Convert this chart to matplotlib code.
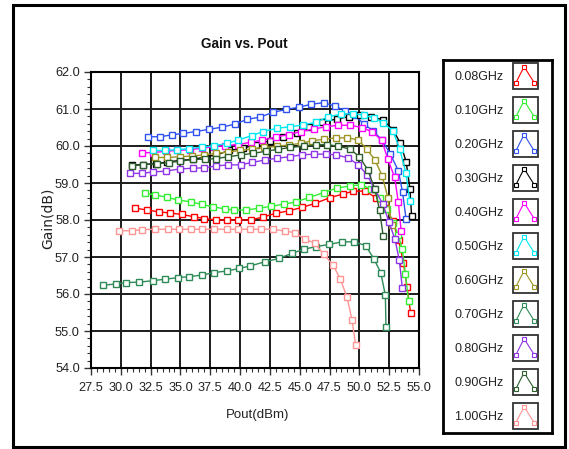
import matplotlib
matplotlib.use("Agg")
import matplotlib.pyplot as plt
from matplotlib import font_manager
from matplotlib.patches import Rectangle
from matplotlib.ticker import MultipleLocator, FormatStrFormatter


def pick_font(names):
    avail = {f.name for f in font_manager.fontManager.ttflist}
    for n in names:
        if n in avail:
            return n
    return "DejaVu Sans"


UI_FONT = pick_font(["Liberation Sans Narrow", "Liberation Sans", "DejaVu Sans"])
NARROW_OK = UI_FONT == "Liberation Sans Narrow"
TICK_SIZE = 10.5 if NARROW_OK else 9.2
LEG_SIZE = 10.5 if NARROW_OK else 9.0
TITLE_SIZE = 10.5 if NARROW_OK else 9.8

# ---- data -------------------------------------------------------------
freq_labels = ["0.08GHz", "0.10GHz", "0.20GHz", "0.30GHz", "0.40GHz", "0.50GHz",
               "0.60GHz", "0.70GHz", "0.80GHz", "0.90GHz", "1.00GHz"]
colors = ["#ff0000", "#33ee33", "#2f52f0", "#000000", "#ff00ff", "#00e8f0",
          "#9c9424", "#2e8b57", "#8f35e8", "#2d5e2d", "#ff9494"]

x_008 = [31.2, 32.2, 33.2, 34.1, 35.1, 36.1, 37.0, 38.0, 38.9, 39.8, 40.9, 41.9, 43.0, 44.1,
         45.2, 46.3, 47.5, 48.6, 49.5, 50.5, 51.4, 52.2, 52.8, 53.3, 53.7, 54.0, 54.3]
y_008 = [58.32, 58.27, 58.22, 58.19, 58.15, 58.09, 58.04, 58.0, 58.0, 58.0, 58.0, 58.08, 58.18,
         58.25, 58.34, 58.45, 58.6, 58.70, 58.78, 58.78, 58.6, 58.32, 57.97, 57.46, 56.83,
         56.18, 55.48]

x_010 = [32.0, 32.9, 33.9, 34.8, 35.9, 36.8, 37.7, 38.7, 39.5, 40.5, 41.6, 42.6, 43.7, 44.7,
         45.8, 47.0, 48.1, 49.2, 50.1, 51.0, 51.7, 52.3, 52.85, 53.25, 53.6, 53.86, 54.13]
y_010 = [58.72, 58.68, 58.61, 58.54, 58.49, 58.42, 58.36, 58.30, 58.27, 58.27, 58.32, 58.37,
         58.43, 58.49, 58.61, 58.74, 58.86, 58.92, 58.95, 58.84, 58.6, 58.3, 57.93, 57.6,
         57.21, 56.53, 55.80]

x_020 = [32.25, 33.28, 34.26, 35.23, 36.29, 37.38, 38.5, 39.56, 40.59, 41.65, 42.77, 43.89,
         44.95, 45.98, 47.0, 47.94, 48.8, 49.55, 50.37, 51.14, 51.9, 52.6, 53.27, 53.62, 53.92]
y_020 = [60.25, 60.25, 60.30, 60.34, 60.39, 60.45, 60.51, 60.59, 60.72, 60.78, 60.91, 60.99,
         61.05, 61.13, 61.17, 61.08, 60.95, 60.84, 60.60, 60.41, 60.16, 59.78, 59.33, 58.75,
         58.02]

x_030 = [30.9, 31.9, 32.95, 33.9, 35.0, 36.05, 37.05, 38.02, 39.1, 40.26, 41.32, 42.49, 43.6,
         44.73, 45.79, 46.9, 48.1, 49.1, 50.05, 51.0, 51.95, 52.82, 53.43, 53.92, 54.24, 54.38]
y_030 = [59.48, 59.50, 59.52, 59.57, 59.61, 59.64, 59.70, 59.76, 59.88, 59.94, 60.04, 60.14,
         60.24, 60.36, 60.51, 60.65, 60.73, 60.79, 60.83, 60.79, 60.71, 60.44, 60.08, 59.58,
         58.85, 58.10]

x_040 = [31.75, 32.7, 33.75, 34.75, 35.8, 36.8, 37.8, 38.7, 39.8, 40.9, 41.85, 43.0, 44.06,
         45.13, 46.2, 47.2, 48.2, 49.25, 50.2, 51.1, 51.88, 52.38, 52.96, 53.26, 53.5]
y_040 = [59.82, 59.82, 59.86, 59.88, 59.90, 59.94, 59.98, 60.01, 60.04, 60.10, 60.16, 60.24,
         60.31, 60.39, 60.46, 60.52, 60.56, 60.56, 60.50, 60.38, 60.15, 59.65, 59.15, 58.49,
         57.71]

x_050 = [32.7, 33.7, 34.7, 35.75, 36.8, 37.85, 38.87, 39.84, 40.96, 41.93, 43.1, 44.2, 45.28,
         46.34, 47.38, 48.45, 49.5, 50.4, 51.25, 52.0, 52.82, 53.38, 53.9, 54.22]
y_050 = [59.88, 59.88, 59.90, 59.93, 59.97, 60.01, 60.07, 60.16, 60.28, 60.39, 60.48, 60.52,
         60.57, 60.64, 60.79, 60.86, 60.87, 60.83, 60.76, 60.63, 60.40, 59.92, 59.28, 58.52]

x_060 = [32.9, 33.9, 35.0, 36.0, 37.0, 38.0, 39.0, 40.0, 41.0, 42.0, 43.1, 44.1, 45.1, 46.0,
         47.0, 48.0, 49.0, 49.9, 50.6, 51.3, 51.9, 52.4, 52.7]
y_060 = [59.69, 59.69, 59.71, 59.73, 59.76, 59.80, 59.84, 59.88, 59.92, 59.96, 59.99, 60.03,
         60.07, 60.14, 60.18, 60.22, 60.22, 60.17, 59.92, 59.63, 59.20, 58.60, 57.87]

x_070 = [28.53, 29.59, 30.43, 31.55, 32.67, 33.7, 34.76, 35.71, 36.77, 37.83, 38.87, 39.92,
         40.87, 42.07, 43.24, 44.36, 45.36, 46.34, 47.46, 48.58, 49.55, 50.53, 51.23, 51.79,
         52.18, 52.23]
y_070 = [56.24, 56.27, 56.31, 56.32, 56.36, 56.40, 56.44, 56.47, 56.51, 56.58, 56.62, 56.69,
         56.76, 56.87, 56.96, 57.10, 57.21, 57.28, 57.34, 57.41, 57.41, 57.31, 56.94, 56.58,
         55.97, 55.12]

x_080 = [30.77, 31.8, 32.7, 33.75, 34.95, 36.07, 36.99, 37.97, 39.0, 40.04, 41.04, 42.07, 43.1,
         44.17, 45.15, 46.2, 47.24, 48.07, 49.05, 49.92, 50.67, 51.25, 51.97, 52.48, 52.98,
         53.35, 53.6]
y_080 = [59.26, 59.26, 59.30, 59.32, 59.38, 59.40, 59.41, 59.46, 59.49, 59.49, 59.56, 59.62,
         59.67, 59.71, 59.76, 59.78, 59.78, 59.76, 59.68, 59.49, 59.21, 58.85, 58.43, 57.95,
         57.48, 56.91, 56.17]

x_090 = [30.9, 31.9, 33.0, 34.0, 35.0, 36.05, 37.05, 38.0, 39.0, 40.1, 41.1, 42.2, 43.2, 44.2,
         45.4, 46.4, 47.3, 48.25, 49.2, 50.0, 50.7, 51.3, 51.7, 52.0]
y_090 = [59.46, 59.50, 59.52, 59.55, 59.59, 59.64, 59.64, 59.66, 59.71, 59.76, 59.80, 59.86,
         59.91, 59.96, 60.0, 60.03, 60.04, 59.99, 59.92, 59.71, 59.36, 58.83, 58.26, 57.56]

x_100 = [29.87, 30.91, 31.8, 32.86, 33.97, 34.9, 35.9, 36.82, 37.83, 38.87, 39.84, 40.82,
         41.78, 42.77, 43.75, 44.59, 45.42, 46.26, 47.0, 47.8, 48.41, 48.97, 49.38, 49.69]
y_100 = [57.71, 57.71, 57.74, 57.75, 57.75, 57.75, 57.75, 57.75, 57.75, 57.75, 57.75, 57.75,
         57.75, 57.75, 57.70, 57.66, 57.49, 57.37, 57.08, 56.78, 56.40, 55.91, 55.30, 54.62]

series_x = [x_008, x_010, x_020, x_030, x_040, x_050, x_060, x_070, x_080, x_090, x_100]
series_y = [y_008, y_010, y_020, y_030, y_040, y_050, y_060, y_070, y_080, y_090, y_100]

x_ticks = [27.5, 30.0, 32.5, 35.0, 37.5, 40.0, 42.5, 45.0, 47.5, 50.0, 52.5, 55.0]
y_ticks = [54.0, 55.0, 56.0, 57.0, 58.0, 59.0, 60.0, 61.0, 62.0]

# ---- figure -----------------------------------------------------------
W, H = 569, 449
fig = plt.figure(figsize=(W / 100, H / 100), dpi=100)
fig.patch.set_facecolor("white")


def fbox(x0, y0, x1, y1):
    """pixel box (top-left origin) -> figure fraction rect"""
    return [x0 / W, 1 - y1 / H, (x1 - x0) / W, (y1 - y0) / H]


# outer frame
fig.add_artist(Rectangle((13 / W, 1 - 447 / H), (565 - 13) / W, (447 - 5) / H,
                         transform=fig.transFigure, fill=False, edgecolor="black",
                         linewidth=2.2))

ax = fig.add_axes(fbox(91, 72, 419, 368))
ax.set_xlim(x_ticks[0], x_ticks[-1])
ax.set_ylim(y_ticks[0], y_ticks[-1])
ax.set_xticks(x_ticks)
ax.set_yticks(y_ticks)
ax.xaxis.set_minor_locator(MultipleLocator(0.5))
ax.yaxis.set_minor_locator(MultipleLocator(0.2))
ax.xaxis.set_major_formatter(FormatStrFormatter("%.1f"))
ax.yaxis.set_major_formatter(FormatStrFormatter("%.1f"))
ax.grid(True, which="major", color="#1c1c1c", linewidth=1.4, zorder=0)
ax.set_axisbelow(True)
for s in ax.spines.values():
    s.set_linewidth(1.5)
    s.set_color("black")
ax.tick_params(which="major", length=5, width=1, color="#333333", labelsize=TICK_SIZE,
               labelcolor="#222222", pad=3)
ax.tick_params(axis="x", which="major", pad=5)
ax.tick_params(which="minor", length=3, width=0.8, color="#333333")
for lab in ax.get_xticklabels() + ax.get_yticklabels():
    lab.set_fontfamily(UI_FONT)

for xs, ys, c in zip(series_x, series_y, colors):
    ax.plot(xs, ys, color=c, linewidth=1.0, marker="s", markersize=4.2,
            markerfacecolor="white", markeredgecolor=c, markeredgewidth=1.0,
            zorder=3, clip_on=False)

fig.text(244.5 / W, 1 - 44 / H, "Gain vs. Pout", ha="center", va="center",
         fontsize=TITLE_SIZE, fontweight="bold", fontfamily=UI_FONT, color="#111111")
fig.text(257.5 / W, 1 - 415 / H, "Pout(dBm)", ha="center", va="center",
         fontsize=TICK_SIZE + 0.3, fontfamily=UI_FONT, color="#222222")
fig.text(47.5 / W, 1 - 218 / H, "Gain(dB)", ha="center", va="center", rotation=90,
         fontsize=10, fontfamily="DejaVu Sans", color="#222222")

# ---- legend panel -----------------------------------------------------
LX0, LY0, LX1, LY1 = 443, 60, 552, 433
lax = fig.add_axes(fbox(LX0, LY0, LX1, LY1))
lax.set_xlim(0, LX1 - LX0)
lax.set_ylim(LY1 - LY0, 0)
lax.set_xticks([])
lax.set_yticks([])
for s in lax.spines.values():
    s.set_linewidth(2.0)
    s.set_color("black")

icon_px = [0.13, 0.30, 0.45, 0.64, 0.84]
icon_py = [0.75, 0.42, 0.15, 0.45, 0.75]
for i, (lab, c) in enumerate(zip(freq_labels, colors)):
    cy = 16.7 + 34 * i
    lax.text(36.0, cy, lab, ha="center", va="center", fontsize=LEG_SIZE,
             fontfamily=UI_FONT, color="#222222")
    bx, bw, by, bh = 69.7, 25.6, cy - 14, 26.6
    lax.add_patch(Rectangle((bx, by), bw, bh, facecolor="white", edgecolor="#333333",
                            linewidth=1.3, zorder=2))
    px = [bx + bw * v for v in icon_px]
    py = [by + bh * v for v in icon_py]
    lax.plot(px, py, color=c, linewidth=0.8, zorder=3)
    lax.plot([px[0], px[2], px[4]], [py[0], py[2], py[4]], linestyle="none",
             marker="s", markersize=3.2, markerfacecolor="white", markeredgecolor=c,
             markeredgewidth=0.8, zorder=4)

fig.savefig("out.png", dpi=100, facecolor="white")
